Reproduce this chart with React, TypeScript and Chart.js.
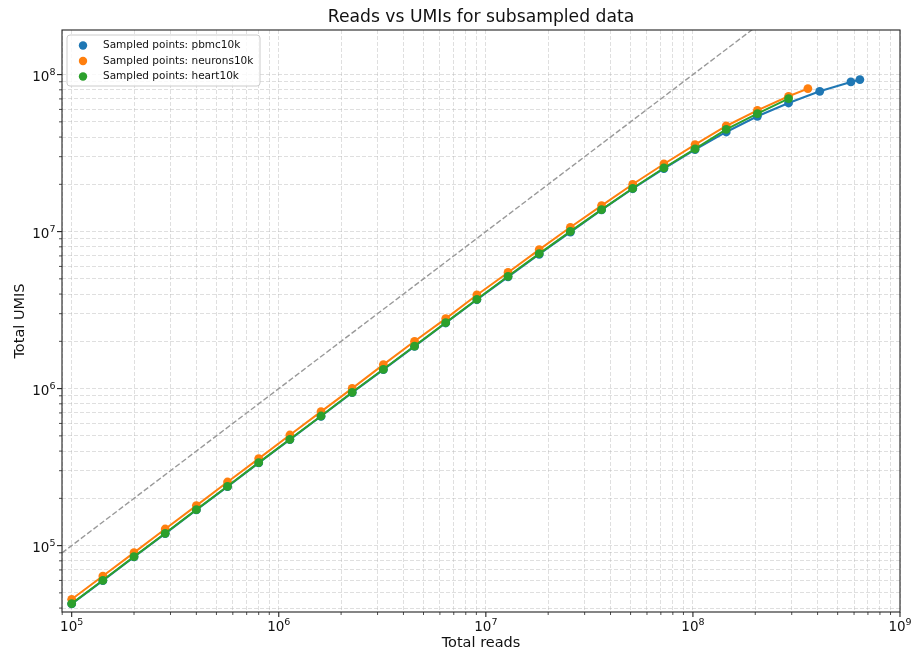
import React, { useEffect, useRef } from 'react';
import { Chart, registerables } from 'chart.js';

Chart.register(...registerables);

const FONT = '"DejaVu Sans", Verdana, sans-serif';

// Subsampled read depths (1e5 * sqrt(2)^k)
const readSteps = [
  100000, 141421, 200000, 282843, 400000, 565685, 800000, 1131371, 1600000,
  2262742, 3200000, 4525483, 6400000, 9050967, 12800000, 18101934, 25600000,
  36203867, 51200000, 72407734, 102400000, 144815469, 204800000, 289630938,
  409600000, 579261875,
];

const pbmcReads = [...readSteps, 640000000];
const pbmcUmis = [
  42500, 59800, 84700, 119300, 168700, 237500, 336300, 473300, 666200, 942500,
  1320000, 1857000, 2617000, 3680000, 5150000, 7170000, 9920000, 13750000,
  18750000, 25200000, 33290000, 43090000, 54260000, 65920000, 78280000,
  89740000, 92950000,
];

const neuronsReads = [...readSteps.slice(0, 24), 359000000];
const neuronsUmis = [
  45500, 64000, 90200, 127600, 179800, 254200, 358300, 506300, 713600, 1004000,
  1421600, 2001000, 2792000, 3947000, 5490000, 7680000, 10650000, 14640000,
  20010000, 26960000, 35830000, 47060000, 59240000, 72740000, 81440000,
];

const heartReads = readSteps.slice(0, 24);
const heartUmis = [
  42720, 60120, 85100, 119800, 169500, 238600, 337800, 475400, 669200, 947000,
  1327000, 1867000, 2633000, 3706000, 5192000, 7243000, 10040000, 13810000,
  18870000, 25420000, 33590000, 44830000, 56440000, 70320000,
];

const seriesNames = [
  'Sampled points: pbmc10k',
  'Sampled points: neurons10k',
  'Sampled points: heart10k',
];
const seriesColors = ['#1f77b4', '#ff7f0e', '#2ca02c'];

const identityLine = [89790, 1000000000];
const xRange = [89790, 1000000000];
const yRange = [37770, 192300000];

const decadeBases = [1e4, 1e5, 1e6, 1e7, 1e8, 1e9];
const multipliers = [1, 2, 3, 4, 5, 6, 7, 8, 9];
const tickBase = '10';

const isMajor = (v: number) => {
  const e = Math.round(Math.log10(v));
  return Math.abs(v / Math.pow(10, e) - 1) < 1e-9;
};
const exponentOf = (v: number) => String(Math.round(Math.log10(v)));
const logTicks = (min: number, max: number) => {
  const out: { value: number }[] = [];
  for (const b of decadeBases)
    for (const m of multipliers) {
      const v = b * m;
      if (v >= min * 0.99999 && v <= max * 1.00001) out.push({ value: v });
    }
  return out;
};

const BASE_FONT = `13.5px ${FONT}`;
const EXP_FONT = `9.5px ${FONT}`;

const decorPlugin = {
  id: 'decor',
  afterDraw(chart: any) {
    const { ctx, chartArea: a, scales } = chart;
    ctx.save();
    ctx.strokeStyle = '#222';
    // tick marks
    for (const t of scales.x.ticks) {
      const px = scales.x.getPixelForValue(t.value);
      const maj = isMajor(t.value);
      ctx.lineWidth = maj ? 1.1 : 0.8;
      ctx.beginPath();
      ctx.moveTo(px, a.bottom);
      ctx.lineTo(px, a.bottom + (maj ? 5 : 3));
      ctx.stroke();
    }
    for (const t of scales.y.ticks) {
      const py = scales.y.getPixelForValue(t.value);
      const maj = isMajor(t.value);
      ctx.lineWidth = maj ? 1.1 : 0.8;
      ctx.beginPath();
      ctx.moveTo(a.left, py);
      ctx.lineTo(a.left - (maj ? 5 : 3), py);
      ctx.stroke();
    }
    // frame
    ctx.lineWidth = 1.1;
    ctx.strokeRect(a.left, a.top, a.right - a.left, a.bottom - a.top);

    // tick labels (10 with superscript exponent)
    ctx.fillStyle = '#111';
    ctx.textBaseline = 'alphabetic';
    ctx.textAlign = 'left';
    const drawLabel = (v: number, x: number, baseY: number, anchor: 'center' | 'right') => {
      const exp = exponentOf(v);
      ctx.font = BASE_FONT;
      const wb = ctx.measureText(tickBase).width;
      ctx.font = EXP_FONT;
      const we = ctx.measureText(exp).width;
      const w = wb + we;
      const x0 = anchor === 'center' ? x - w / 2 : x - w;
      ctx.font = BASE_FONT;
      ctx.fillText(tickBase, x0, baseY);
      ctx.font = EXP_FONT;
      ctx.fillText(exp, x0 + wb, baseY - 5.7);
    };
    for (const t of scales.x.ticks) {
      if (!isMajor(t.value)) continue;
      drawLabel(t.value, scales.x.getPixelForValue(t.value), a.bottom + 18.7, 'center');
    }
    for (const t of scales.y.ticks) {
      if (!isMajor(t.value)) continue;
      drawLabel(t.value, a.left - 6.5, scales.y.getPixelForValue(t.value) + 6, 'right');
    }

    // title
    ctx.fillStyle = '#111';
    ctx.font = `17.2px ${FONT}`;
    ctx.textAlign = 'center';
    ctx.textBaseline = 'middle';
    ctx.fillText('Reads vs UMIs for subsampled data', (a.left + a.right) / 2, 18);

    // legend
    const lx = a.left + 5;
    const ly = a.top + 5;
    const lw = 193;
    const lh = 51;
    ctx.beginPath();
    const r = 3;
    ctx.moveTo(lx + r, ly);
    ctx.lineTo(lx + lw - r, ly);
    ctx.quadraticCurveTo(lx + lw, ly, lx + lw, ly + r);
    ctx.lineTo(lx + lw, ly + lh - r);
    ctx.quadraticCurveTo(lx + lw, ly + lh, lx + lw - r, ly + lh);
    ctx.lineTo(lx + r, ly + lh);
    ctx.quadraticCurveTo(lx, ly + lh, lx, ly + lh - r);
    ctx.lineTo(lx, ly + r);
    ctx.quadraticCurveTo(lx, ly, lx + r, ly);
    ctx.closePath();
    ctx.fillStyle = 'rgba(255,255,255,0.8)';
    ctx.fill();
    ctx.strokeStyle = '#cccccc';
    ctx.lineWidth = 1;
    ctx.stroke();
    ctx.font = `10.5px ${FONT}`;
    ctx.textAlign = 'left';
    ctx.textBaseline = 'middle';
    seriesNames.forEach((name, i) => {
      const cy = ly + 10.5 + i * 15.5;
      ctx.beginPath();
      ctx.arc(lx + 16, cy, 4.2, 0, Math.PI * 2);
      ctx.fillStyle = seriesColors[i];
      ctx.fill();
      ctx.fillStyle = '#111';
      ctx.fillText(name, lx + 36, cy);
    });
    ctx.restore();
  },
};

const makeSeries = (i: number, xs: number[], ys: number[], order: number) => ({
  label: seriesNames[i],
  data: xs.map((x, j) => ({ x, y: ys[j] })),
  borderColor: seriesColors[i],
  backgroundColor: seriesColors[i],
  pointBackgroundColor: seriesColors[i],
  pointBorderColor: seriesColors[i],
  borderWidth: 2,
  pointRadius: 4.4,
  pointHoverRadius: 4.4,
  pointBorderWidth: 0,
  tension: 0,
  fill: false,
  order,
});

export default function App() {
  const ref = useRef<HTMLCanvasElement>(null);
  useEffect(() => {
    document.body.style.margin = '0';
    const canvas = ref.current;
    if (!canvas) return;
    const gridOpts = { color: 'rgba(176,176,176,0.45)', lineWidth: 0.9, drawTicks: false };
    const noPad = (s: any) => {
      s.paddingLeft = 0;
      s.paddingRight = 0;
      s.paddingTop = 0;
      s.paddingBottom = 0;
    };
    const chart = new Chart(canvas, {
      type: 'line',
      data: {
        datasets: [
          makeSeries(0, pbmcReads, pbmcUmis, 3),
          makeSeries(1, neuronsReads, neuronsUmis, 2),
          makeSeries(2, heartReads, heartUmis, 1),
          {
            label: 'y = x',
            data: identityLine.map((v) => ({ x: v, y: v })),
            borderColor: '#999999',
            borderDash: [5.5, 2.4],
            borderWidth: 1.4,
            pointRadius: 0,
            fill: false,
            order: 4,
          } as any,
        ],
      },
      options: {
        animation: false,
        responsive: false,
        devicePixelRatio: 1,
        layout: { padding: { top: 30, right: 11, left: 0, bottom: 0 } },
        plugins: {
          legend: { display: false },
          title: { display: false },
          tooltip: { enabled: false },
        },
        scales: {
          x: {
            type: 'logarithmic',
            position: 'bottom',
            min: xRange[0],
            max: xRange[1],
            afterBuildTicks: (s: any) => {
              s.ticks = logTicks(xRange[0], xRange[1]);
            },
            afterFit: (s: any) => {
              s.height = 42;
              noPad(s);
            },
            ticks: {
              autoSkip: false,
              maxRotation: 0,
              minRotation: 0,
              padding: 0,
              callback: () => '',
            },
            grid: gridOpts,
            border: { display: false, dash: [4, 2] },
            title: {
              display: true,
              text: 'Total reads',
              font: { family: FONT, size: 14.5 },
              color: '#111',
              padding: { top: 0, bottom: 2 },
            },
          },
          y: {
            type: 'logarithmic',
            position: 'left',
            min: yRange[0],
            max: yRange[1],
            afterBuildTicks: (s: any) => {
              s.ticks = logTicks(yRange[0], yRange[1]);
            },
            afterFit: (s: any) => {
              s.width = 62;
              noPad(s);
            },
            ticks: {
              autoSkip: false,
              padding: 0,
              callback: () => '',
            },
            grid: gridOpts,
            border: { display: false, dash: [4, 2] },
            title: {
              display: true,
              text: 'Total UMIS',
              font: { family: FONT, size: 14.5 },
              color: '#111',
              padding: { top: 11.5, bottom: 0 },
            },
          },
        },
      } as any,
      plugins: [decorPlugin],
    });
    return () => chart.destroy();
  }, []);
  return (
    <div style={{ width: 911, height: 654 }}>
      <canvas ref={ref} width={911} height={654} style={{ display: 'block' }} />
    </div>
  );
}
